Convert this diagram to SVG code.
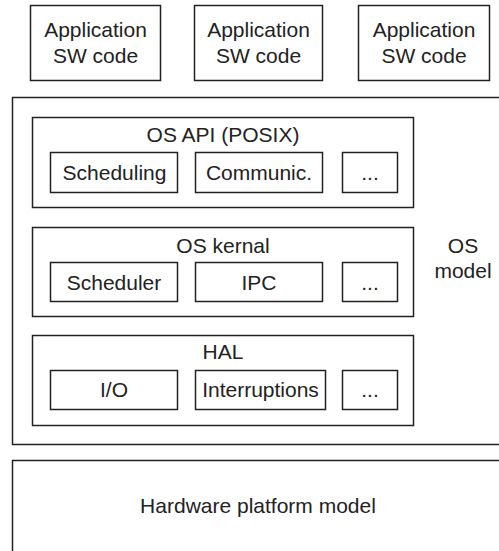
<svg xmlns="http://www.w3.org/2000/svg" width="499" height="551" viewBox="0 0 499 551">
<style>
.b{fill:none;stroke:#222;stroke-width:1.5}
.t{font-family:"Liberation Sans",Arial,sans-serif;font-size:21px;fill:#222;text-anchor:middle}
</style>
<rect width="499" height="551" fill="#fff"/>
<g id="app1"><rect class="b" x="30.5" y="5.5" width="130" height="75"/><text class="t" x="95.5" y="37">Application</text><text class="t" x="95.5" y="63">SW code</text></g>
<g id="app2"><rect class="b" x="194.5" y="5.5" width="128" height="75"/><text class="t" x="258.5" y="37">Application</text><text class="t" x="258.5" y="63">SW code</text></g>
<g id="app3"><rect class="b" x="358.5" y="5.5" width="131" height="75"/><text class="t" x="424" y="37">Application</text><text class="t" x="424" y="63">SW code</text></g>
<g id="os-model">
<path class="b" d="M500,97.5 H12.5 V444.5 H500"/>
<text class="t" x="463" y="253">OS</text><text class="t" x="463" y="278">model</text>
</g>
<g id="os-api">
<rect class="b" x="32.5" y="117.5" width="381" height="90"/>
<text class="t" x="223" y="142">OS API (POSIX)</text>
<g id="scheduling"><rect class="b" x="50.5" y="152.5" width="127" height="40"/><text class="t" x="114.5" y="180">Scheduling</text></g>
<g id="communic"><rect class="b" x="195.5" y="152.5" width="127" height="40"/><text class="t" x="259" y="180">Communic.</text></g>
<g id="api-more"><rect class="b" x="342.5" y="152.5" width="55" height="40"/><text class="t" x="370" y="180">...</text></g>
</g>
<g id="os-kernal">
<rect class="b" x="32.5" y="227.5" width="381" height="89"/>
<text class="t" x="223" y="253">OS kernal</text>
<g id="scheduler"><rect class="b" x="50.5" y="262.5" width="127" height="39"/><text class="t" x="114" y="290">Scheduler</text></g>
<g id="ipc"><rect class="b" x="195.5" y="262.5" width="127" height="39"/><text class="t" x="259" y="290">IPC</text></g>
<g id="kernal-more"><rect class="b" x="342.5" y="262.5" width="55" height="39"/><text class="t" x="370" y="290">...</text></g>
</g>
<g id="hal">
<rect class="b" x="32.5" y="335.5" width="381" height="90"/>
<text class="t" x="223" y="359">HAL</text>
<g id="io"><rect class="b" x="50.5" y="370.5" width="127" height="39"/><text class="t" x="114" y="397">I/O</text></g>
<g id="interruptions"><rect class="b" x="195.5" y="370.5" width="130" height="39"/><text class="t" x="260.5" y="397">Interruptions</text></g>
<g id="hal-more"><rect class="b" x="342.5" y="370.5" width="55" height="39"/><text class="t" x="370" y="397">...</text></g>
</g>
<g id="hardware">
<path class="b" d="M500,460.5 H12.5 V552"/>
<text class="t" x="258" y="513">Hardware platform model</text>
</g>
<g id="connectors"></g>
</svg>
